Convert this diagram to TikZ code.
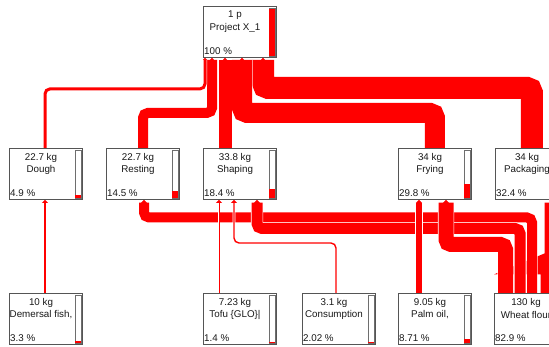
\documentclass[tikz,border=0pt]{standalone}
\usepackage{fontspec}
\setmainfont{Liberation Sans}
\usetikzlibrary{calc,arrows.meta,backgrounds}
\definecolor{flowred}{RGB}{255,0,0}
\definecolor{boxgray}{RGB}{85,85,85}
\definecolor{bargray}{RGB}{110,110,110}
\newcommand{\procbox}[7]{%
  \node[box] (#1) at (#2,#3) {};
  \node[txt] (#1-q) at ($(#1.north west)+(32,9.5)$) {#4};
  \node[txt] (#1-n) at ($(#1.north west)+(32,21.5)$) {#5};
  \node[txt, anchor=west] (#1-p) at ($(#1.south west)+(1,-7)$) {#6};
  \draw[draw=bargray, fill=white, line width=0.7pt] ($(#1.north east)+(-8,2)$) rectangle ($(#1.south east)+(-2,-2)$);
  \fill[flowred] ($(#1.south east)+(-7.6,-2.35)$) rectangle ++(5.2,{-max(#7*46.3,0.8)});
}
\begin{document}
\begin{tikzpicture}[x=1pt,y=-1pt,
  box/.style={draw=boxgray, fill=white, line width=0.9pt, minimum width=73pt, minimum height=51pt, inner sep=0pt, anchor=north west},
  txt/.style={font=\fontsize{9.8}{11}\selectfont, inner sep=0pt, text=black!90},
  flow/.style={draw=flowred, line width=#1pt, rounded corners=5pt, preaction={draw=white, line width=#1pt+1.2pt}},
  tipend/.style={-{Triangle[length=3pt, width'=3pt 1]}},
  tipstart/.style={{Triangle[length=2pt, width'=2pt 1]}-},
]
\useasboundingbox (0,0) rectangle (549,347);
\clip (0,0) rectangle (549,347);

% process boxes
\procbox{proj}{203}{6}{1 p}{Project X\_1}{100 \%}{1}
\procbox{dough}{9}{148}{22.7 kg}{Dough}{4.9 \%}{0.049}
\procbox{resting}{106}{148}{22.7 kg}{Resting}{14.5 \%}{0.145}
\procbox{shaping}{203}{148}{33.8 kg}{Shaping}{18.4 \%}{0.184}
\procbox{frying}{398}{148}{34 kg}{Frying}{29.8 \%}{0.298}
\procbox{packaging}{495}{148}{34 kg}{Packaging}{32.4 \%}{0.324}
\procbox{demersal}{9}{293}{10 kg}{Demersal fish,}{3.3 \%}{0.033}
\procbox{tofu}{203}{293}{7.23 kg}{Tofu \{GLO\}|}{1.4 \%}{0.014}
\procbox{consumption}{302}{293}{3.1 kg}{Consumption}{2.02 \%}{0.0202}
\procbox{palm}{398}{293}{9.05 kg}{Palm oil,}{8.71 \%}{0.0871}
\procbox{wheat}{494}{293}{130 kg}{Wheat flour}{82.9 \%}{0.829}

\begin{pgfonlayer}{background}
% flows from second row into the project
\draw[flow=22, tipstart] ($(proj.south west)+(60,0)$) -- ++(0,30) -| (packaging.north);
\draw[flow=20, tipstart] ($(proj.south west)+(39,0)$) -- ++(0,55) -| (frying.north);
\draw[flow=13, tipstart] ($(proj.south west)+(22,0)$) -- ($(shaping.north west)+(22,0)$);
\draw[flow=10, tipstart] ($(proj.south west)+(9,0)$) -- ++(0,55) -| ($(resting.north west)+(37,0)$);
\draw[flow=3, tipstart] ($(proj.south west)+(2,0)$) -- ++(0,31) -| ($(dough.north west)+(36,0)$);

% flows from the bottom row
\draw[flow=22.6, tipend] ($(wheat.north west)+(58,0)$) -- ++(0,-30) -| ($(packaging.south west)+(61,0)$);
\draw[flow=10, tipend] ($(wheat.north west)+(38,0)$) -- ++(0,-75.5) -| ($(resting.south west)+(38,0)$);
\draw[flow=11, tipend] ($(wheat.north west)+(26,0)$) -- ++(0,-64.5) -| ($(shaping.south west)+(54,0)$);
\draw[flow=15, tipend] ($(wheat.north west)+(11.5,0)$) -- ++(0,-48.5) -| ($(frying.south west)+(48,0)$);
\draw[flow=6, tipend] ($(palm.north west)+(21,0)$) -- ($(frying.south west)+(21,0)$);
\draw[flow=1.4, tipend] ($(consumption.north west)+(34,0)$) -- ++(0,-50) -| ($(shaping.south west)+(31,0)$);
\draw[flow=1, tipend] ($(tofu.north west)+(16,0)$) -- ($(shaping.south west)+(16,0)$);
\draw[flow=2.3, tipend] ($(demersal.north west)+(36,0)$) -- ($(dough.south west)+(36,0)$);
\end{pgfonlayer}
\end{tikzpicture}
\end{document}
